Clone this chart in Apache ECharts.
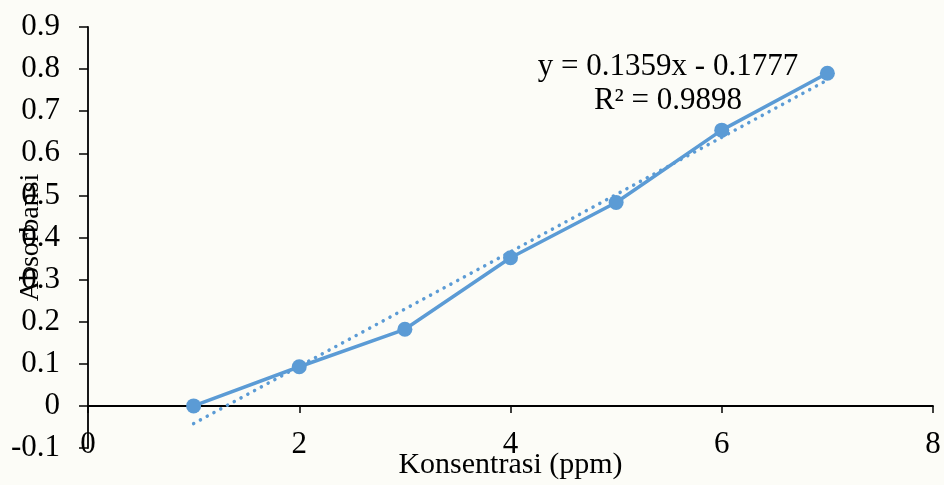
<!DOCTYPE html>
<html>
<head>
<meta charset="utf-8">
<script src="https://cdn.jsdelivr.net/npm/echarts@6/dist/echarts.min.js"></script>
<style>
html,body{margin:0;padding:0;background:#fcfcf7;}
#chart{width:944px;height:485px;}
</style>
</head>
<body>
<div id="chart"></div>
<script>
var concentrations = [1, 2, 3, 4, 5, 6, 7];
var absorbances = [0, 0.093, 0.182, 0.352, 0.483, 0.655, 0.790];
var trendX = [1, 7];
var trendY = [-0.042, 0.774];
var equationText = 'y = 0.1359x - 0.1777';
var r2Text = 'R² = 0.9898';
var xTitle = 'Konsentrasi (ppm)';
var yTitle = 'Absorbansi';

var font = '"Liberation Serif", "Times New Roman", serif';
var blue = '#5b9bd5';

var chart = echarts.init(document.getElementById('chart'));
chart.setOption({
  backgroundColor: '#fcfcf7',
  animation: false,
  grid: {left: 88, right: 11, top: 27, bottom: 37, containLabel: false, outerBoundsMode: 'none'},
  xAxis: {
    type: 'value', min: 0, max: 8, interval: 2,
    axisLine: {show: true, onZero: true, lineStyle: {color: '#000', width: 1.8}},
    axisTick: {show: true, length: 7, lineStyle: {color: '#000', width: 1.5}},
    axisLabel: {color: '#000', fontFamily: font, fontSize: 31, margin: -19},
    splitLine: {show: false},
    name: xTitle, nameLocation: 'middle', nameGap: 2, nameMoveOverlap: false,
    nameTextStyle: {color: '#000', fontFamily: font, fontSize: 30}
  },
  yAxis: {
    type: 'value', min: -0.1, max: 0.9, interval: 0.1,
    axisLine: {show: true, onZero: false, lineStyle: {color: '#000', width: 1.8}},
    axisTick: {show: true, length: 9, lineStyle: {color: '#000', width: 1.5}},
    axisLabel: {color: '#000', fontFamily: font, fontSize: 31, margin: 28,
      formatter: function (v) { return String(Math.round(v * 10) / 10); }},
    splitLine: {show: false},
    name: yTitle, nameLocation: 'middle', nameGap: 43, nameRotate: 90, nameMoveOverlap: false,
    nameTextStyle: {color: '#000', fontFamily: font, fontSize: 28}
  },
  series: [
    {
      type: 'line',
      data: trendX.map(function (x, i) { return [x, trendY[i]]; }),
      showSymbol: false, symbol: 'none',
      lineStyle: {color: blue, width: 3.5, type: [0.1, 7.6], cap: 'round'},
      z: 1
    },
    {
      type: 'line',
      data: concentrations.map(function (x, i) { return [x, absorbances[i]]; }),
      symbol: 'circle', symbolSize: 15,
      itemStyle: {color: blue},
      lineStyle: {color: blue, width: 3.5},
      z: 2
    }
  ],
  graphic: [
    {type: 'text', x: 668, y: 67,
      style: {text: equationText, fill: '#000', font: '31px ' + font, align: 'center', verticalAlign: 'middle'}},
    {type: 'text', x: 668, y: 101,
      style: {text: r2Text, fill: '#000', font: '31px ' + font, align: 'center', verticalAlign: 'middle'}}
  ]
});
</script>
</body>
</html>
